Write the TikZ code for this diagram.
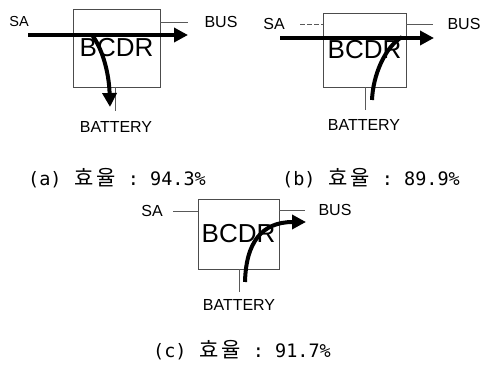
\documentclass[tikz,border=0pt]{standalone}
\usepackage{fontspec}
\setmainfont{Liberation Sans}
\newfontfamily\capmono{DejaVu Sans Mono}
\newfontfamily\capkr{Noto Sans CJK KR}
\usetikzlibrary{arrows.meta}
\newcommand\effcap[2]{{\fontsize{18.5}{20}\capmono(#1)\ \makebox[22pt]{\fontsize{21}{22}\capkr 효}\makebox[22pt]{\fontsize{21}{22}\capkr 율}\ :\ #2}}
\begin{document}
\begin{tikzpicture}[x=1pt,y=-1pt,
  bcdrbox/.style={draw=black!70, line width=0.9pt, inner sep=0pt, font=\fontsize{26}{28}\selectfont},
  wire/.style={draw=black!65, line width=0.9pt},
  lbl/.style={inner sep=0pt, font=\fontsize{16}{18}\selectfont},
  flow/.style={line width=4pt, -{Triangle[length=14pt,width=14pt]}},
  flownotip/.style={line width=4pt},
  capt/.style={inner sep=0pt, anchor=west}]
\useasboundingbox (0,0) rectangle (483,369);

% ---------- panel (a)
\node[bcdrbox, minimum width=87pt, minimum height=78pt] (boxa) at (116.5,48) {BCDR};
\node[lbl, font=\fontsize{14.5}{16}\selectfont] (saa) at (19,22) {SA};
\node[lbl] (busa) at (221,22) {BUS};
\node[lbl] (bata) at (116,127) {BATTERY};
\coordinate (busaend) at (188,22);
\coordinate (bataend) at (115,111);
\draw[wire] (boxa.east |- busaend) -- (busaend);
\draw[wire] (boxa.south -| bataend) -- (bataend);
\coordinate (arra1) at (28,35);
\coordinate (arra2) at (188,35);
\draw[flow] (arra1) -- (arra2);
\coordinate (cura1) at (92,35);
\coordinate (cura2) at (110,107);
\draw[flow] (cura1) .. controls (102,48) and (109,72) .. (cura2);

% ---------- panel (b)
\node[bcdrbox, minimum width=83pt, minimum height=74pt] (boxb) at (364.5,50) {BCDR};
\node[lbl] (sab) at (274,24) {SA};
\node[lbl] (busb) at (464,24) {BUS};
\node[lbl] (batb) at (364,125) {BATTERY};
\coordinate (sabstart) at (300,24);
\coordinate (busbend) at (433,24);
\coordinate (batbend) at (365,110);
\draw[wire, dash pattern=on 5pt off 2pt] (sabstart) -- (boxb.west |- sabstart);
\draw[wire] (boxb.east |- busbend) -- (busbend);
\draw[wire] (boxb.south -| batbend) -- (batbend);
\coordinate (arrb1) at (280,38);
\coordinate (arrb2) at (434,38);
\draw[flow] (arrb1) -- (arrb2);
\coordinate (curb1) at (372,100);
\coordinate (curb2) at (402,37);
\draw[flownotip] (curb1) .. controls (373,75) and (385,47) .. (curb2);

% ---------- panel (c)
\node[bcdrbox, minimum width=81pt, minimum height=70pt] (boxc) at (238.5,234) {BCDR};
\node[lbl] (sac) at (152,211) {SA};
\node[lbl] (busc) at (335,210) {BUS};
\node[lbl] (batc) at (239,305) {BATTERY};
\coordinate (sacstart) at (173,211);
\coordinate (buscend) at (305,210);
\coordinate (batcend) at (239,292);
\draw[wire] (sacstart) -- (boxc.west |- sacstart);
\draw[wire] (boxc.east |- buscend) -- (buscend);
\draw[wire] (boxc.south -| batcend) -- (batcend);
\coordinate (curc1) at (245,282);
\coordinate (curc2) at (306,222);
\draw[flow] (curc1) .. controls (246,242) and (262,222) .. (curc2);

% ---------- captions
\node[capt] (capa) at (28,178) {\effcap{a}{94.3\%}};
\node[capt] (capb) at (282,178) {\effcap{b}{89.9\%}};
\node[capt] (capc) at (153,350) {\effcap{c}{91.7\%}};
\end{tikzpicture}
\end{document}
